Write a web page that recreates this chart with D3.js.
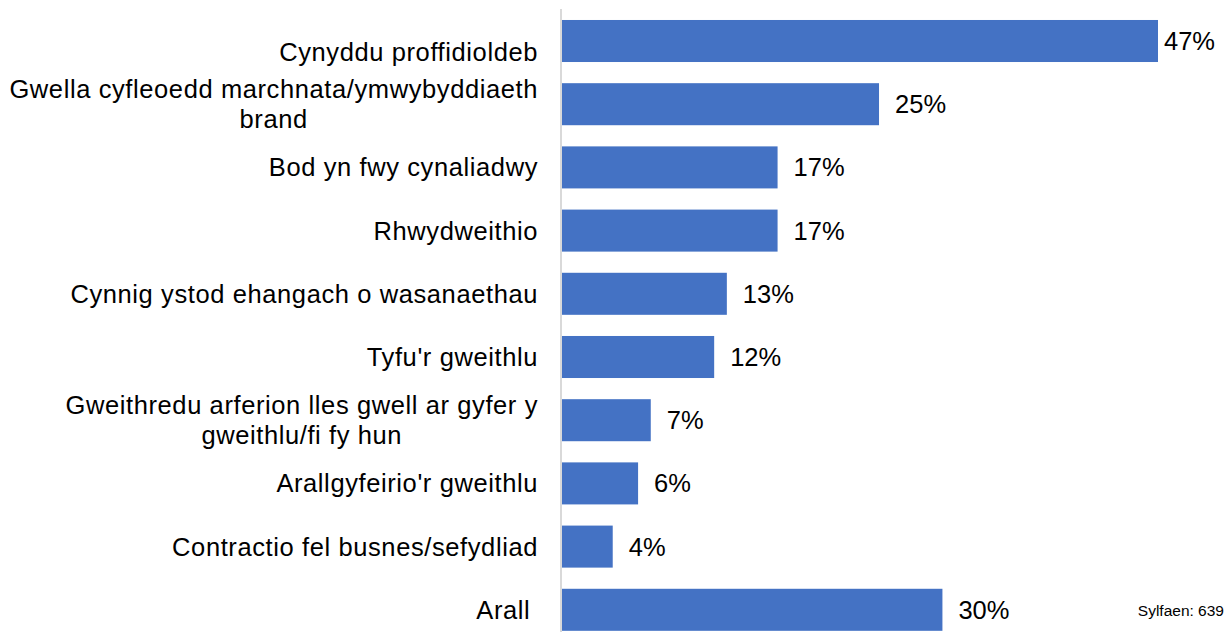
<!DOCTYPE html>
<html>
<head>
<meta charset="utf-8">
<script src="https://cdn.jsdelivr.net/npm/d3@7"></script>
<style>
  body { margin: 0; background: #fff; }
  svg { display: block; font-family: "Liberation Sans", Arial, sans-serif; }
</style>
</head>
<body>
<div id="container"></div>
<script>
// categories, each split into its display lines
const categories = [
  ["Cynyddu proffidioldeb"],
  ["Gwella cyfleoedd marchnata/ymwybyddiaeth", "brand"],
  ["Bod yn fwy cynaliadwy"],
  ["Rhwydweithio"],
  ["Cynnig ystod ehangach o wasanaethau"],
  ["Tyfu'r gweithlu"],
  ["Gweithredu arferion lles gwell ar gyfer y", "gweithlu/fi fy hun"],
  ["Arallgyfeirio'r gweithlu"],
  ["Contractio fel busnes/sefydliad"],
  ["Arall\u00a0"]
];
const values = [47, 25, 17, 17, 13, 12, 7, 6, 4, 30];
const baseNote = "Sylfaen: 639";

const width = 1227;
const height = 632;
const axisX = 562;
const step = 63.2;
const fontSize = 25.5;

const x = d3.scaleLinear()
  .domain([0, 47])
  .range([axisX, 1158]);

const y = d3.scaleBand()
  .domain(d3.range(values.length))
  .range([9.4, 9.4 + step * values.length])
  .paddingInner(0.335)
  .paddingOuter(0.1675);

const svg = d3.create("svg")
  .attr("width", width)
  .attr("height", height);

// attach first so text can be measured
d3.select("#container").append(() => svg.node());

svg.append("g")
  .attr("fill", "#4472C4")
  .selectAll()
  .data(values)
  .join("rect")
  .attr("x", x(0))
  .attr("y", (d, i) => y(i))
  .attr("width", d => x(d) - x(0))
  .attr("height", y.bandwidth());

// vertical axis line
svg.append("line")
  .attr("x1", axisX - 1)
  .attr("x2", axisX - 1)
  .attr("y1", 9)
  .attr("y2", height)
  .attr("stroke", "#d9d9d9")
  .attr("stroke-width", 2);

// value labels
svg.append("g")
  .attr("font-size", fontSize)
  .attr("fill", "#000")
  .selectAll()
  .data(values)
  .join("text")
  .attr("y", (d, i) => y(i) + y.bandwidth() / 2)
  .attr("dy", "0.35em")
  .text(d => `${d}%`)
  .attr("x", function(d) {
    const w = this.getComputedTextLength();
    return Math.min(x(d) + 16, 1215 - w);
  });

// category labels
const lineH = 30;
const labelRight = 538;
const labels = svg.append("g")
  .attr("font-size", fontSize)
  .attr("letter-spacing", 0.6)
  .attr("fill", "#000")
  .style("white-space", "pre");

categories.forEach((lines, i) => {
  const cy = y(i) + y.bandwidth() / 2 + (i === 0 ? 11 : 0);
  const t = labels.append("text");
  const spans = lines.map((line, k) =>
    t.append("tspan")
      .attr("y", cy + (k - (lines.length - 1) / 2) * lineH)
      .attr("dy", "0.35em")
      .text(line)
  );
  const maxW = d3.max(spans, s => s.node().getComputedTextLength());
  t.attr("text-anchor", "middle");
  spans.forEach(s => s.attr("x", labelRight - maxW / 2));
});

svg.append("text")
  .attr("x", 1224)
  .attr("y", 611)
  .attr("dy", "0.35em")
  .attr("text-anchor", "end")
  .attr("font-size", 15.5)
  .text(baseNote);
</script>
</body>
</html>
